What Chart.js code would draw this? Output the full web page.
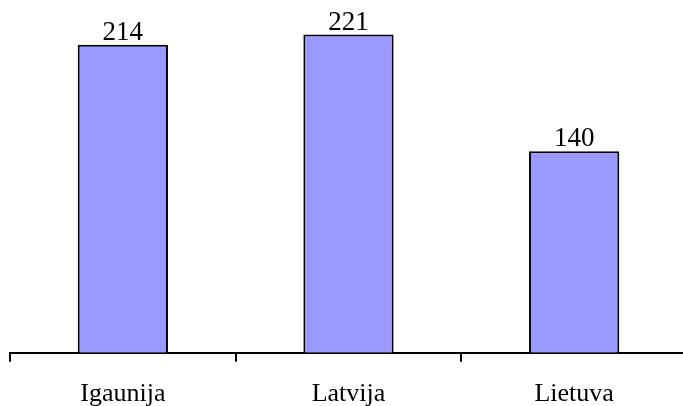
<!DOCTYPE html>
<html>
<head>
<meta charset="utf-8">
<script src="https://cdn.jsdelivr.net/npm/chart.js@4"></script>
<style>
  html, body { margin: 0; padding: 0; background: #fff; overflow: hidden; }
  #wrap { width: 687px; height: 406px; position: relative; }
</style>
</head>
<body>
<div id="wrap"><canvas id="chart"></canvas></div>
<script>
// ── Data ──────────────────────────────────────────────
const countries = ['Igaunija', 'Latvija', 'Lietuva'];
const values    = [214, 221, 140];

const serif = '"Liberation Serif", "Times New Roman", serif';

// value labels above each bar
const valueLabels = {
    id: 'valueLabels',
    afterDatasetsDraw(chart) {
        const ctx  = chart.ctx;
        const meta = chart.getDatasetMeta(0);
        ctx.save();
        ctx.font = '27px ' + serif;
        ctx.fillStyle = '#000';
        ctx.textAlign = 'center';
        ctx.textBaseline = 'alphabetic';
        meta.data.forEach((bar, i) => {
            ctx.fillText(String(values[i]), bar.x, bar.y - 5);
        });
        ctx.restore();
    }
};

new Chart(document.getElementById('chart').getContext('2d'), {
    type: 'bar',
    data: {
        labels: countries,
        datasets: [{
            data: values,
            backgroundColor: '#9999FF',
            borderColor: '#000',
            borderWidth: 2,
            borderSkipped: 'bottom',
            barPercentage: 0.4,
            categoryPercentage: 1
        }]
    },
    options: {
        responsive: true,
        maintainAspectRatio: false,
        animation: false,
        layout: { padding: { left: 10, right: 0, top: 0, bottom: -21 } },
        plugins: { legend: { display: false }, tooltip: { enabled: false } },
        scales: {
            x: {
                border: { display: true, color: '#000', width: 2 },
                grid: {
                    display: true,
                    offset: true,
                    drawOnChartArea: false,
                    drawTicks: true,
                    tickLength: 9,
                    color: '#000',
                    lineWidth: 2
                },
                ticks: {
                    color: '#000',
                    padding: 17,
                    font: { family: serif, size: 26 }
                }
            },
            y: {
                display: false,
                min: 0,
                max: 245
            }
        }
    },
    plugins: [valueLabels]
});
</script>
</body>
</html>
